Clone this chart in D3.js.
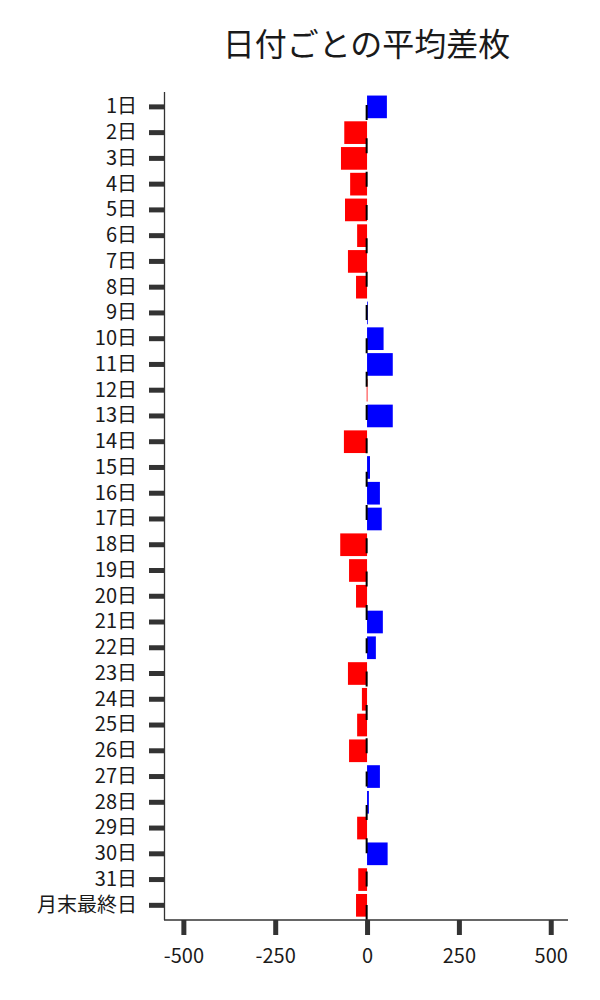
<!DOCTYPE html>
<html>
<head>
<meta charset="utf-8">
<script src="https://cdn.jsdelivr.net/npm/d3@7"></script>
<style>
  html, body { margin: 0; padding: 0; background: #fff; }
  svg { display: block; font-family: "Noto Sans CJK JP", "Noto Sans", sans-serif; }
</style>
</head>
<body>
<svg id="chart" width="600" height="1000"></svg>
<script>
const titleText = "日付ごとの平均差枚";
const categories = ["1日","2日","3日","4日","5日","6日","7日","8日","9日","10日",
  "11日","12日","13日","14日","15日","16日","17日","18日","19日","20日",
  "21日","22日","23日","24日","25日","26日","27日","28日","29日","30日",
  "31日","月末最終日"];
const values = [54, -62, -71, -46, -60, -27, -52, -30, 2, 45,
  70, -1, 70, -63, 8, 35, 40, -73, -49, -30,
  43, 24, -52, -14, -27, -49, 35, 5, -27, 56,
  -24, -30];
const xTicks = [-500, -250, 0, 250, 500];
const xDomain = [-550, 547];

const svg = d3.select("#chart");
const plot = { left: 165, right: 568, top: 92, bottom: 920 };

const x = d3.scaleLinear().domain(xDomain).range([plot.left, plot.right]);
const y = d3.scaleBand().domain(categories).range([94, 918.2])
  .paddingInner(0.12).paddingOuter(0.06);

// bars
svg.append("g").selectAll("rect")
  .data(categories.map((c, i) => ({ c, v: values[i] })))
  .join("rect")
  .attr("x", d => x(Math.min(0, d.v)))
  .attr("width", d => Math.max(0.8, Math.abs(x(d.v) - x(0))))
  .attr("y", d => y(d.c))
  .attr("height", y.bandwidth())
  .attr("fill", d => d.v >= 0 ? "#0000ff" : "#ff0000");

// dashed zero line
svg.append("line")
  .attr("x1", x(0) - 0.4).attr("x2", x(0) - 0.4)
  .attr("y1", plot.top).attr("y2", plot.bottom)
  .attr("stroke", "#000").attr("stroke-width", 2)
  .attr("stroke-dasharray", "15,18.33")
  .attr("stroke-dashoffset", 20.33);

// y axis
const yAxis = svg.append("g")
  .attr("transform", `translate(${plot.left - 1},0)`)
  .call(d3.axisLeft(y).tickSize(15).tickPadding(12));
yAxis.select(".domain").remove();
yAxis.selectAll(".tick line").attr("stroke", "#333").attr("stroke-width", 5);
yAxis.selectAll(".tick text").attr("font-size", 20).attr("fill", "#1a1a1a")
  .style("font-family", '"Noto Sans CJK JP", sans-serif');

// x axis
const xAxis = svg.append("g")
  .attr("transform", `translate(0,${plot.bottom})`)
  .call(d3.axisBottom(x).tickValues(xTicks).tickSize(15).tickPadding(14)
    .tickFormat(d => String(d)));
xAxis.select(".domain").remove();
xAxis.selectAll(".tick line").attr("stroke", "#333").attr("stroke-width", 5);
xAxis.selectAll(".tick text").attr("font-size", 20).attr("fill", "#1a1a1a")
  .style("font-family", '"Noto Sans CJK JP", sans-serif');

// spines
svg.append("line")
  .attr("x1", plot.left - 0.5).attr("x2", plot.left - 0.5)
  .attr("y1", plot.top).attr("y2", plot.bottom)
  .attr("stroke", "#333").attr("stroke-width", 1.3);
svg.append("line")
  .attr("x1", plot.left - 1).attr("x2", plot.right)
  .attr("y1", plot.bottom).attr("y2", plot.bottom)
  .attr("stroke", "#333").attr("stroke-width", 1.3);

// title
svg.append("text")
  .attr("x", (plot.left + plot.right) / 2)
  .attr("y", 56)
  .attr("text-anchor", "middle")
  .attr("font-size", 32)
  .attr("fill", "#1a1a1a")
  .text(titleText);
</script>
</body>
</html>
